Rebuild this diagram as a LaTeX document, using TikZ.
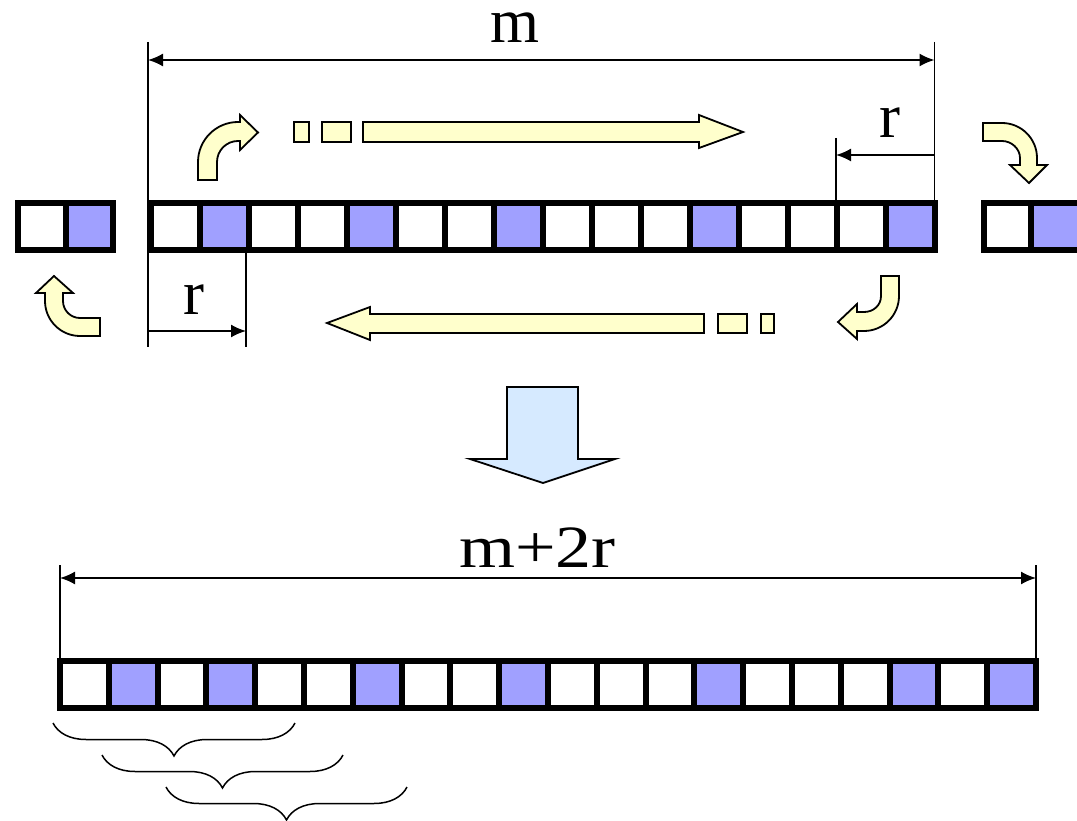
\documentclass[tikz,border=0pt]{standalone}
\usepackage{fontspec}
\usepackage{graphicx}
\setmainfont{Liberation Serif}
\usetikzlibrary{arrows.meta,decorations.pathreplacing}
\definecolor{cellblue}{RGB}{160,160,255}
\definecolor{arrowyellow}{RGB}{255,255,204}
\definecolor{bigblue}{RGB}{214,234,255}
\begin{document}
\begin{tikzpicture}[x=1pt,y=-1pt,
  cellbox/.style={draw, line width=6pt},
  yarrow/.style={draw, line width=1.8pt, fill=arrowyellow, line join=miter},
  bigarrow/.style={draw, line width=1.8pt, fill=bigblue, line join=miter},
  dimline/.style={line width=1.8pt},
  dimtip/.style={line width=1.8pt, -{Latex[length=15pt,width=13pt]}},
  dimboth/.style={line width=1.8pt, {Latex[length=15pt,width=13pt]}-{Latex[length=15pt,width=13pt]}},
  lab/.style={inner sep=0pt, anchor=base, font=\fontsize{63}{64}\selectfont},
  bracestyle/.style={line width=1.5pt, decorate, decoration={brace, mirror, amplitude=33pt}}
]
\useasboundingbox (0,0) rectangle (1077,821);
\clip (0,0) rectangle (1077,821);

% ---------- top row ----------
\foreach \i in {1,4,7,11,15} \fill[cellblue] (150.5+49*\i,203.5) rectangle ++(49,46.5);
\foreach \i in {0,...,15} \draw[cellbox] (150.5+49*\i,203.5) rectangle ++(49,46.5);

% left small block
\fill[cellblue] (65.5,203.5) rectangle (112.5,250);
\draw[cellbox] (17.5,203.5) rectangle (65.5,250);
\draw[cellbox] (65.5,203.5) rectangle (112.5,250);

% right small block
\fill[cellblue] (1030.5,203.5) rectangle (1084,250);
\draw[cellbox] (984,203.5) rectangle (1030.5,250);
\draw[cellbox] (1030.5,203.5) rectangle (1084,250);

% ---------- dimension m ----------
\coordinate (mL0) at (148,42);
\coordinate (mL1) at (148,347);
\coordinate (mR0) at (934.5,42);
\coordinate (mR1) at (934.5,203);
\coordinate (mA) at (148,60);
\coordinate (mB) at (934.5,60);
\draw[dimline] (mL0) -- (mL1);
\draw[dimline] (mR0) -- (mR1);
\draw[dimboth] (mA) -- (mB);
\node[lab] (mlabel) at (514.5,43) {m};

% ---------- dimension r (top right) ----------
\coordinate (rt0) at (836,138);
\coordinate (rt1) at (836,203);
\coordinate (rtA) at (934.5,155);
\coordinate (rtB) at (836,155);
\draw[dimline] (rt0) -- (rt1);
\draw[dimtip] (rtA) -- (rtB);
\node[lab] (rtop) at (890,138) {r};

% ---------- dimension r (bottom left) ----------
\coordinate (rb0) at (246,250);
\coordinate (rb1) at (246,347);
\coordinate (rbA) at (148,331);
\coordinate (rbB) at (246,331);
\draw[dimline] (rb0) -- (rb1);
\draw[dimtip] (rbA) -- (rbB);
\node[lab] (rbot) at (194,315) {r};

% ---------- yellow arrows ----------
% top-left curved
\draw[yarrow] (198,180) -- (198,162) .. controls (198,140) and (216,122) .. (238,122)
  -- (240,122) -- (240,115) -- (258,132.5) -- (240,150) -- (240,141) -- (238,141)
  .. controls (226.4,141) and (217,150.4) .. (217,162) -- (217,180) -- cycle;
% dots and straight arrow (top)
\draw[yarrow] (294,122) rectangle (309,142);
\draw[yarrow] (322,122) rectangle (351,142);
\draw[yarrow] (363,122) -- (699,122) -- (699,115) -- (743,132) -- (699,148) -- (699,142) -- (363,142) -- cycle;
% top-right curved
\draw[yarrow] (983,123) -- (1002,123) .. controls (1021.3,123) and (1037,138.7) .. (1037,158)
  -- (1037,165) -- (1047,165) -- (1029,183) -- (1010,165) -- (1020,165) -- (1020,158)
  .. controls (1020,148.6) and (1011.4,141) .. (1002,141) -- (983,141) -- cycle;
% bottom-right curved
\draw[yarrow] (881,276) -- (899,276) -- (899,296) .. controls (899,315.3) and (883.3,331) .. (864,331)
  -- (857,331) -- (857,339) -- (838,322) -- (857,304) -- (857,312) -- (864,312)
  .. controls (873.4,312) and (881,305.4) .. (881,296) -- cycle;
% straight arrow (bottom) and dots
\draw[yarrow] (704,314) -- (370,314) -- (370,307) -- (327,323) -- (370,340) -- (370,333) -- (704,333) -- cycle;
\draw[yarrow] (718,314) rectangle (747,333);
\draw[yarrow] (761,314) rectangle (774,333);
% bottom-left curved
\draw[yarrow] (100,318) -- (80,318) .. controls (70.6,318) and (63,310.4) .. (63,301)
  -- (63,293) -- (73,293) -- (54,276) -- (36,293) -- (45,293) -- (45,301)
  .. controls (45,320.3) and (60.7,336) .. (80,336) -- (100,336) -- cycle;

% ---------- big down arrow ----------
\draw[bigarrow] (507,387) -- (578,387) -- (578,459) -- (615,459) -- (543,483) -- (470,459) -- (507,459) -- cycle;

% ---------- bottom row ----------
\foreach \i in {1,3,6,9,13,17,19} \fill[cellblue] (60+48.8*\i,661) rectangle ++(48.8,47);
\foreach \i in {0,...,19} \draw[cellbox] (60+48.8*\i,661) rectangle ++(48.8,47);

% ---------- dimension m+2r ----------
\coordinate (nL0) at (60,565);
\coordinate (nL1) at (60,661);
\coordinate (nR0) at (1036,565);
\coordinate (nR1) at (1036,661);
\coordinate (nA) at (60,578);
\coordinate (nB) at (1036,578);
\draw[dimline] (nL0) -- (nL1);
\draw[dimline] (nR0) -- (nR1);
\draw[dimboth] (nA) -- (nB);
\node[inner sep=0pt, anchor=base, font=\fontsize{60}{62}\selectfont] (m2r) at (537.5,567) {\scalebox{1.2}[1]{m+2r}};

% ---------- braces ----------
\coordinate (b1a) at (53,723);  \coordinate (b1b) at (295,723);
\coordinate (b2a) at (102,755); \coordinate (b2b) at (343,755);
\coordinate (b3a) at (166,787); \coordinate (b3b) at (407,787);
\draw[bracestyle] (b1a) -- (b1b);
\draw[bracestyle] (b2a) -- (b2b);
\draw[bracestyle] (b3a) -- (b3b);
\end{tikzpicture}
\end{document}
